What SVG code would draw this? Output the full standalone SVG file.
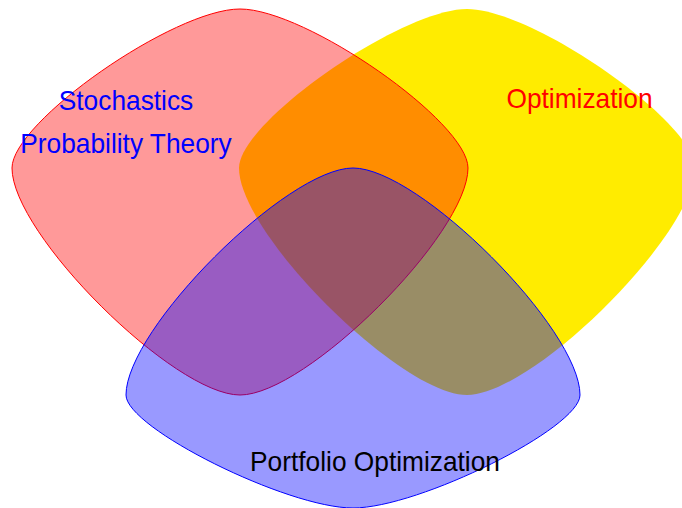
<svg xmlns="http://www.w3.org/2000/svg" width="682" height="508" viewBox="0 0 682 508">
  <style>
    .label { font-family: "Liberation Sans", Arial, sans-serif; font-size: 26.3px; text-anchor: middle; }
    .yellow { fill: #FFEC00; stroke: none; }
    .red { fill: #FF0000; fill-opacity: 0.4; stroke: #FF0000; stroke-width: 1; }
    .blue { fill: #0000FF; fill-opacity: 0.4; stroke: #0000FF; stroke-width: 1; }
  </style>
  <rect width="682" height="508" fill="#FFFFFF"/>

  <!-- Optimization set (opaque, drawn first) -->
  <g id="set-optimization">
    <path class="yellow" d="M467,9 C533,9 695,122 695,168 C695,234 533,395 467,395 C401,395 239,234 239,168 C239,122 401,9 467,9 Z"/>
    <text class="label" transform="translate(579.5,107.5) scale(1,1.06)" fill="#FF0000">Optimization</text>
  </g>

  <!-- Stochastics / probability set -->
  <g id="set-stochastics">
    <path class="red" d="M240,9 C306,9 468,122 468,168 C468,234 306,395 240,395 C174,395 12,234 12,168 C12,122 174,9 240,9 Z"/>
    <text class="label" transform="translate(126,110) scale(1,1.06)" fill="#0000FF">Stochastics</text>
    <text class="label" transform="translate(126,153) scale(1,1.06)" fill="#0000FF">Probability Theory</text>
  </g>

  <!-- Portfolio optimization set -->
  <g id="set-portfolio">
    <path class="blue" d="M353,168 C419,168 580,329 580,395 C580,428 419,508 353,508 C287,508 126,428 126,395 C126,329 287,168 353,168 Z"/>
    <text class="label" transform="translate(375,471) scale(1,1.06)" fill="#000000">Portfolio Optimization</text>
  </g>
</svg>
